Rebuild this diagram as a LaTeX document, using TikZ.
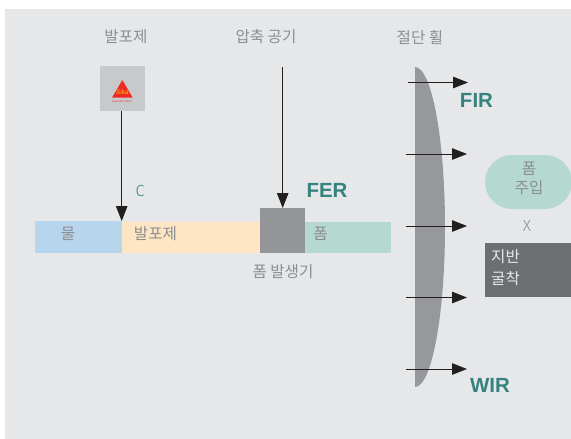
\documentclass[tikz,border=0pt]{standalone}
\usepackage{fontspec}
\setmainfont{Noto Sans CJK KR}
\newfontfamily\latinbold{Liberation Sans}
\newfontfamily\latinlight{Fira Sans Light}
\usetikzlibrary{arrows.meta}
\definecolor{bgc}{HTML}{E6E7E9}
\definecolor{waterc}{HTML}{B7D5ED}
\definecolor{agentc}{HTML}{FEE6C4}
\definecolor{foamc}{HTML}{B5D8D1}
\definecolor{genc}{HTML}{939598}
\definecolor{bladec}{HTML}{97989B}
\definecolor{txtc}{HTML}{8C8E90}
\definecolor{tealc}{HTML}{35837F}
\definecolor{logoc}{HTML}{C8C9CB}
\definecolor{darkc}{HTML}{6D6E71}
\definecolor{linec}{HTML}{231F20}
\definecolor{sikar}{HTML}{EE2A24}
\definecolor{sikay}{HTML}{FFC20E}
\tikzset{
  block/.style={anchor=north west,inner sep=0pt,outer sep=0pt},
  lbl/.style={inner sep=0pt,text=txtc,font=\fontsize{15.6}{18}\selectfont,align=center},
  key/.style={inner sep=0pt,text=tealc,font=\latinbold\bfseries\fontsize{20.5}{24}\selectfont},
  flow/.style={draw=linec,line width=1pt,-{Triangle[length=15pt,width=11.5pt,fill=linec]}}
}
\begin{document}
\begin{tikzpicture}[x=1pt,y=-1pt]
\useasboundingbox (0,0) rectangle (571,439);
\fill[bgc] (5,9) rectangle (571,439);
% bars
\node[block,fill=waterc,minimum width=87pt,minimum height=32pt] (water) at (35,221) {};
\node[block,fill=agentc,minimum width=138pt,minimum height=31.5pt] (agent) at (122,221.5) {};
\node[block,fill=foamc,minimum width=86pt,minimum height=31pt] (foam) at (305,222) {};
\node[block,fill=genc,minimum width=45pt,minimum height=45pt] (gen) at (260,208) {};
\node[lbl] (waterl) at (68,233.5) {물};
\node[lbl] (agentl) at (155.5,233.5) {발포제};
\node[lbl] (foaml) at (320.5,233.5) {폼};
\node[lbl] (genl) at (283,271.5) {폼 발생기};
% logo
\node[block,fill=logoc,minimum width=45pt,minimum height=45pt] (logo) at (100,66) {};
\fill[sikar] (122.3,80) -- (132.7,97.7) -- (112,97.7) -- cycle;
\node[inner sep=0pt,text=sikay,font=\latinbold\itshape\fontsize{6.5}{7}\selectfont] (sika) at (122.3,92.5) {Sika};
\node[inner sep=0pt,text=sikar,font=\latinbold\fontsize{2.4}{3}\selectfont] (trust) at (122.3,101.7) {BUILDING TRUST};
% top labels
\node[lbl] (agenttop) at (126,37) {발포제};
\node[lbl] (airtop) at (266,37) {압축 공기};
\node[lbl] (bittop) at (420,37) {절단 휠};
\node[inner sep=0pt,text=tealc,font=\latinlight\fontsize{16}{18}\selectfont] (cl) at (140,191) {C};
\node[key] (fer) at (327,190) {FER};
\node[key] (fir) at (476.5,100.5) {FIR};
\node[key] (wir) at (490,385) {WIR};
% cutter
\fill[bladec] (415,67) arc[start angle=90,end angle=-90,x radius=30pt,y radius=160pt] -- cycle;
% right blocks
\node[block,fill=foamc,rounded corners=27pt,minimum width=87pt,minimum height=54pt] (grout) at (485,155) {};
\node[lbl,font=\fontsize{15.6}{19}\selectfont] (groutl) at (529,178) {폼\\주입};
\node[inner sep=0pt,text=txtc,font=\latinlight\fontsize{16}{18}\selectfont] (xl) at (527,226.5) {X};
\node[block,fill=darkc,minimum width=86pt,minimum height=54pt] (exc) at (485,243) {};
\node[lbl,text=bgc,font=\fontsize{15.6}{22}\selectfont,anchor=west,align=left] (excl) at (491,268) {지반\\굴착};
% connectors
\coordinate (airs) at (282.7,67);
\coordinate (mix) at (121.7,221);
\draw[flow] (logo.south -| mix) -- (mix);
\draw[flow] (airs) -- (airs |- gen.north);
\coordinate (a1) at (408,82.5); \coordinate (b1) at (468,82.5);
\coordinate (a2) at (406,154); \coordinate (b2) at (467,154);
\coordinate (a3) at (406,226); \coordinate (b3) at (467,226);
\coordinate (a4) at (406,297.5); \coordinate (b4) at (467,297.5);
\coordinate (a5) at (406,369); \coordinate (b5) at (467,369);
\foreach \i in {1,...,5} \draw[flow] (a\i) -- (b\i);
\end{tikzpicture}
\end{document}
